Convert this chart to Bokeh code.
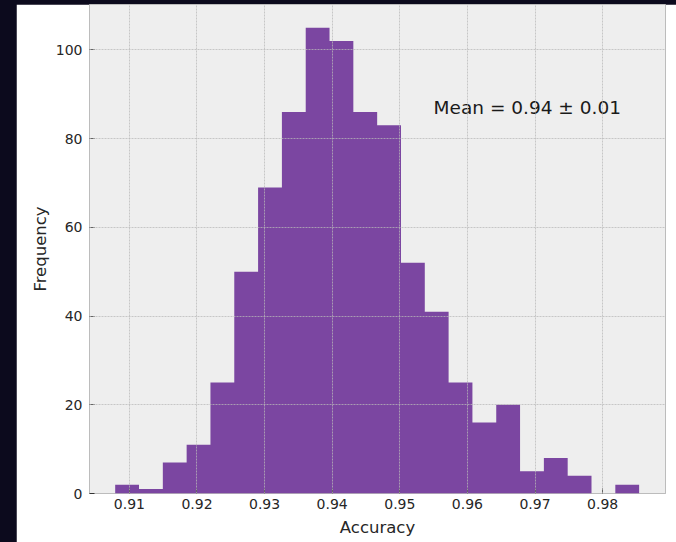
from bokeh.plotting import figure
from bokeh.layouts import column
from bokeh.models import Range1d, FixedTicker, Label
from bokeh.embed import file_html
from bokeh.resources import INLINE
import numpy as np

# Histogram of model accuracy over repeated runs (22 equal-width bins)
bin_start = 0.9079
bin_end = 0.9854
counts = [2, 1, 7, 11, 25, 50, 69, 86, 105, 102, 86, 83,
          52, 41, 25, 16, 20, 5, 8, 4, 0, 2]
x_ticks = [0.91, 0.92, 0.93, 0.94, 0.95, 0.96, 0.97, 0.98]
y_ticks = [0, 20, 40, 60, 80, 100]
mean_acc = 0.94
std_acc = 0.01

edges = np.linspace(bin_start, bin_end, len(counts) + 1)

# outline of the histogram as one stepped polygon, so neighbouring bins
# share edges without anti-aliasing seams
step_x = [edges[0]]
step_y = [0]
for lo, hi, c in zip(edges[:-1], edges[1:], counts):
    step_x += [lo, hi]
    step_y += [c, c]
step_x.append(edges[-1])
step_y.append(0)

FONT = "DejaVu Sans"
TEXT = "#262626"
BAR = "#7b46a1"

p = figure(width=660, height=538, output_backend="svg", toolbar_location=None,
           x_range=Range1d(0.9041, 0.9893), y_range=Range1d(0, 110.25),
           min_border_left=73, min_border_right=11, min_border_top=0,
           min_border_bottom=49, margin=(4, 0, 0, 16))
p.background_fill_color = "#eeeeee"
p.border_fill_color = "white"
p.outline_line_color = "#bcbcbc"
p.outline_line_width = 1

p.patch(step_x, step_y, fill_color=BAR, line_color=None)

for ax in (p.xaxis[0], p.yaxis[0]):
    ax.axis_line_color = None
    ax.major_tick_in = 5
    ax.major_tick_out = 0
    ax.major_tick_line_color = "#333333"
    ax.minor_tick_line_color = None
    ax.major_label_text_font = FONT
    ax.major_label_text_font_size = "14px"
    ax.major_label_text_color = TEXT
    ax.axis_label_text_font = FONT
    ax.axis_label_text_font_size = "16.5px"
    ax.axis_label_text_font_style = "normal"
    ax.axis_label_text_color = TEXT

p.xaxis.ticker = FixedTicker(ticks=x_ticks)
p.yaxis.ticker = FixedTicker(ticks=y_ticks)
p.xaxis.axis_label = "Accuracy"
p.yaxis.axis_label = "Frequency"
p.xaxis.major_label_standoff = 5
p.xaxis.axis_label_standoff = 6
p.yaxis.major_label_standoff = 7
p.yaxis.axis_label_standoff = 3

for g in (p.xgrid[0], p.ygrid[0]):
    g.grid_line_color = "#b8b8b8"
    g.grid_line_alpha = 0.75
    g.grid_line_dash = "2 1"
    g.grid_line_width = 1
    g.level = "overlay"

p.add_layout(Label(x=0.955, y=87, text=f"Mean = {mean_acc:.2f} \u00b1 {std_acc:.2f}",
                   text_font=FONT, text_font_size="18.5px", text_color="#1a1a1a",
                   text_align="left", text_baseline="alphabetic"))

page = column(p, styles={"background-color": "#0c0a1d"})

open("out.html", "w").write(file_html(page, INLINE))
